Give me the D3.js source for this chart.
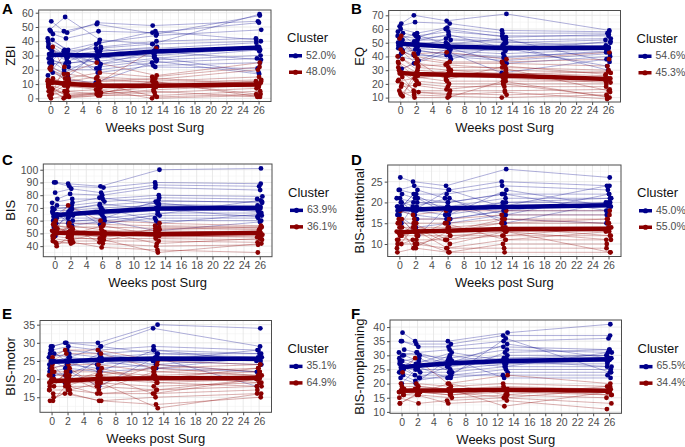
<!DOCTYPE html>
<html><head><meta charset="utf-8">
<script src="https://cdn.jsdelivr.net/npm/d3@7"></script>
<style>body{margin:0;background:#fff} text{font-family:Arial,"Liberation Sans",sans-serif}</style>
</head><body><svg id="c" width="685" height="447"></svg>
<script>
const weeks = [0, 2, 6, 13, 26];
const xTicks = [0, 2, 4, 6, 8, 10, 12, 14, 16, 18, 20, 22, 24, 26];
const clusterLabels = ["A", "B", "C", "D", "E", "F"];
const yTitles = ["ZBI", "EQ", "BIS", "BIS-attentional", "BIS-motor", "BIS-nonplanning"];
const pctBlue = ["52.0%", "54.6%", "63.9%", "45.0%", "35.1%", "65.5%"];
const pctRed = ["48.0%", "45.3%", "36.1%", "55.0%", "64.9%", "34.4%"];
const yTicksAll = [
  [0, 10, 20, 30, 40, 50, 60],
  [10, 20, 30, 40, 50, 60, 70],
  [40, 50, 60, 70, 80, 90, 100],
  [10, 15, 20, 25],
  [15, 20, 25, 30, 35],
  [10, 15, 20, 25, 30, 35, 40]
];
// mean trajectories (week 0,2,6,13,26)
const meanBlue = [
  [30.5, 30.3, 30.0, 32.8, 35.6],
  [49.3, 48.6, 47.2, 46.2, 46.3],
  [64.2, 65.2, 67.0, 69.6, 70.0],
  [18.4, 18.3, 18.6, 18.9, 19.3],
  [24.8, 24.9, 25.3, 25.7, 25.6],
  [25.8, 26.3, 27.2, 28.0, 28.6]
];
const meanRed = [
  [11.5, 10.2, 8.9, 8.9, 9.7],
  [28.0, 27.3, 26.6, 26.0, 23.5],
  [50.6, 50.4, 50.0, 49.4, 50.4],
  [12.8, 13.0, 13.2, 13.6, 13.7],
  [19.5, 19.6, 20.0, 20.2, 20.3],
  [17.5, 17.6, 17.6, 17.8, 17.5]
];
// individual trajectories (week 0,2,6,13,26)
const zbiBlue = [[54,47,52,45,58],[48,57,41,38,59],[47,46,53,51,54],[45,42,47,46,53],[42,34,39,44,48],[41,33,36,40,42],[40,32,35,38,40],[38,30,33,35,39],[36,28,30,32,36],[33,25,26,30,35],[30,33,24,28,34],[28,22,22,27,30],[26,20,20,25,28],[25,34,18,23,25],[22,18,30,22,21],[20,15,35,29,18],[18,13,11,26,17],[16,31,24,33,27],[31,29,38,47,41],[27,24,28,31,36],[35,30,21,null,33],[24,26,33,36,null]];
const zbiRed = [[22,17,25,16,25],[21,14,18,15,22],[20,12,15,13,20],[14,10,12,12,15],[12,9,10,11,13],[11,8,8,10,12],[10,5,6,9,11],[9,3,4,8,10],[8,2,3,6,9],[7,1,2,4,7],[6,0,2,2,5],[5,12,10,1,3],[3,9,6,0,2],[2,5,3,12,1],[1,22,12,14,10],[0,2,4,9,8],[36,14,10,35,null],[13,11,9,8,12],[10,17,14,11,3],[4,1,3,5,1]];
const eqBlue = [[64,70,66,71,59],[62,65,64,59,58],[60,57,61,57,57],[57,55,58,55,55],[55,53,55,52,53],[52,52,52,50,52],[50,50,50,48,50],[48,48,47,45,48],[46,46,44,42,45],[45,44,42,40,43],[43,41,40,37,42],[40,37,46,35,40],[31,35,43,28,38],[53,56,49,53,36],[47,51,56,46,33],[51,42,38,49,30],[44,54,60,54,56],[58,49,45,44,51],[49,47,53,51,47],[42,45,41,39,44]];
const eqRed = [[55,42,43,38,43],[53,40,36,36,38],[45,38,35,35,33],[43,35,32,32,30],[40,32,30,30,28],[38,30,28,28,26],[36,28,25,25,24],[35,25,22,22,22],[32,22,20,20,20],[28,20,18,18,18],[25,15,15,15,16],[23,14,13,12,14],[20,12,11,10,12],[15,10,10,22,10],[13,14,12,14,9],[12,26,30,27,29],[11,33,34,31,15],[22,24,27,24,21],[30,36,23,33,27],[18,19,16,20,11]];
const bisBlue = [[90,89,87,100,101],[90,87,86,90,89],[82,85,82,88,87],[77,81,80,86,84],[74,77,77,80,79],[72,72,75,78,77],[70,70,72,75,75],[68,68,70,72,72],[66,66,68,70,70],[64,64,65,68,68],[62,62,62,66,66],[60,60,60,64,64],[58,58,58,62,62],[55,63,70,60,60],[52,67,64,58,65],[48,56,60,52,59],[65,74,78,73,71],[67,59,62,76,74],[63,69,73,69,63],[61,65,66,74,67],[69,71,57,65,76]];
const bisRed = [[60,72,60,58,56],[58,58,57,56,55],[56,55,55,54,53],[54,52,52,52,51],[52,50,50,50,49],[50,48,48,48,47],[48,46,46,46,45],[46,44,44,44,43],[44,42,42,40,41],[42,43,39,37,35],[40,47,45,35,42],[57,53,49,53,55],[51,49,56,49,50],[47,56,53,47,48],[55,51,47,51,52],[43,45,51,42,46],[53,54,43,55,54]];
const attBlue = [[26,25,24,28,26],[23,24,23,25,24],[23,22,22,24,23],[22,21,20,22,22],[21,20,19,21,21],[20,19,18,20,20],[19,18,17,19,19],[18,17,16,18,18],[17,14,15,17,17],[16,12,19,16,15],[15,19,21,15,20],[19,21,17,23,19],[20,18,23,19,24],[18,22,18,20,21],[17,20,20,22,18],[21,16,16,18,20],[19,23,21,17,22]];
const attRed = [[18,17,18,18,18],[16,16,16,17,17],[15,15,15,16,16],[14,14,14,15,15],[13,13,13,14,14],[12,12,12,13,13],[11,11,11,12,12],[10,10,9,11,11],[8,9,8,10,10],[12,13,9,9,9],[10,11,8,8,8],[15,12,14,13,8],[13,14,13,15,16],[11,15,11,14,12],[14,9,13,16,15],[12,10,12,12,14],[16,12,15,11,13],[9,14,10,13,11]];
const motBlue = [[29,30,30,35,34],[29,30,29,34,29],[28,29,28,29,28],[27,28,27,28,27],[26,27,26,27,26],[25,26,25,26,25],[24,25,24,25,24],[23,24,23,24,22],[22,23,22,23,22],[21,22,18,26,18],[20,19,26,24,26],[27,26,29,27,27],[25,23,27,25,28],[28,25,22,28,25],[22,21,25,23,26]];
const motRed = [[26,28,28,25,24],[25,27,27,23,24],[23,24,24,22,23],[22,22,22,21,22],[21,21,21,20,21],[20,20,20,19,20],[19,19,19,18,19],[18,18,18,17,18],[17,17,16,16,17],[16,16,14,15,16],[15,16,14,13,15],[14,17,19,12,16],[14,18,21,16,20],[19,21,17,22,21],[20,19,22,20,23],[22,20,20,21,19],[18,23,18,24,22],[17,22,23,19,18],[21,18,16,17,20],[24,20,21,23,21]];
const nonBlue = [[38,35,35,38,41],[35,34,34,37,37],[35,33,33,35,36],[32,31,32,33,32],[31,30,29,32,31],[30,28,28,30,30],[29,27,27,29,29],[28,26,26,28,28],[27,25,25,27,27],[26,24,24,26,26],[25,23,23,25,25],[24,22,22,24,24],[23,21,23,23,23],[22,20,29,22,22],[20,25,30,27,28],[28,29,24,31,32],[26,30,27,34,29],[24,27,31,28,26],[27,22,26,29,30],[30,31,28,26,31],[25,26,22,36,24]];
const nonRed = [[24,29,20,23,20],[20,20,19,20,19],[19,19,18,19,18],[18,18,17,18,17],[17,17,16,17,16],[16,16,15,16,15],[15,13,14,15,13],[13,16,13,14,11],[17,19,18,12,17],[16,17,20,16,19],[18,18,17,15,18],[13,17,16,18,16]];

const blueSets = [zbiBlue, eqBlue, bisBlue, attBlue, motBlue, nonBlue];
const redSets = [zbiRed, eqRed, bisRed, attRed, motRed, nonRed];

// layout (pixels) and axis domains
const jitter = [0.12,-0.25,0.3,-0.08,0.2,-0.3,0.05,0.25,-0.15,0.33,-0.2,0.1,-0.33,0.18,-0.05,0.28,-0.12,0.22,-0.28,0.02,0.15,-0.22,0.08];
const rects = [
  {l:38.7, r:271, t:10, b:101.5, lab:13.5},
  {l:388.7, r:620.5, t:10.5, b:102, lab:13.5},
  {l:43.3, r:272, t:164, b:256.7, lab:165},
  {l:387.7, r:621, t:165, b:256.5, lab:165},
  {l:40, r:271.5, t:320.5, b:412.3, lab:318.5},
  {l:390, r:621.5, t:320, b:413.3, lab:318.5}
];
const yDomains = [[-2.2, 61.9], [6.8, 73.5], [31.7, 104.5], [7, 29], [10.85, 36.15], [9.5, 42.5]];
const xDomain = [-1.45, 27.55];
const BLUE = "#00008B", RED = "#8B0000";

const svg = d3.select("#c");

rects.forEach((R, p) => {
  const g = svg.append("g");
  const x = d3.scaleLinear().domain(xDomain).range([R.l, R.r]);
  const y = d3.scaleLinear().domain(yDomains[p]).range([R.b, R.t]);
  const left = p % 2 === 0;

  // grid
  const minorX = d3.range(1, 27, 2);
  const yt = yTicksAll[p];
  const step = yt[1] - yt[0];
  const minorY = [];
  for (let v = yt[0] - step / 2; v <= yDomains[p][1]; v += step) if (v >= yDomains[p][0]) minorY.push(v);
  const grid = g.append("g");
  grid.selectAll(".mx").data(minorX).join("line").attr("x1", d => x(d)).attr("x2", d => x(d)).attr("y1", R.t).attr("y2", R.b).attr("stroke", "#f2f2f2").attr("stroke-width", 0.6);
  grid.selectAll(".my").data(minorY).join("line").attr("class","my").attr("y1", d => y(d)).attr("y2", d => y(d)).attr("x1", R.l).attr("x2", R.r).attr("stroke", "#f2f2f2").attr("stroke-width", 0.6);
  grid.selectAll(".gx").data(xTicks).join("line").attr("class","gx").attr("x1", d => x(d)).attr("x2", d => x(d)).attr("y1", R.t).attr("y2", R.b).attr("stroke", "#e3e3e3").attr("stroke-width", 0.8);
  grid.selectAll(".gy").data(yt).join("line").attr("class","gy").attr("y1", d => y(d)).attr("y2", d => y(d)).attr("x1", R.l).attr("x2", R.r).attr("stroke", "#e3e3e3").attr("stroke-width", 0.8);

  const clip = "clip" + p;
  svg.append("clipPath").attr("id", clip).append("rect").attr("x", R.l).attr("y", R.t).attr("width", R.r - R.l).attr("height", R.b - R.t);
  const plot = g.append("g").attr("clip-path", `url(#${clip})`);

  const line = d3.line().defined(d => d[1] != null).x(d => x(d[0])).y(d => y(d[1]));
  const toPts = (arr, si) => arr.map((v, ti) => [weeks[ti] + jitter[(si * 3 + ti * 5) % jitter.length], v]);

  const sets = [[blueSets[p], BLUE], [redSets[p], RED]];
  sets.forEach(([set, col]) => {
    plot.append("g").selectAll("path").data(set).join("path")
      .attr("d", (d, i) => line(toPts(d, i))).attr("fill", "none")
      .attr("stroke", col).attr("stroke-width", 0.7).attr("stroke-opacity", 0.45);
  });
  sets.forEach(([set, col]) => {
    const pts = [];
    set.forEach((d, i) => toPts(d, i).forEach(q => { if (q[1] != null) pts.push(q); }));
    plot.append("g").selectAll("circle").data(pts).join("circle")
      .attr("cx", d => x(d[0])).attr("cy", d => y(d[1])).attr("r", 2.4).attr("fill", col);
  });
  // mean lines
  [[meanBlue[p], BLUE], [meanRed[p], RED]].forEach(([m, col]) => {
    const pts = m.map((v, i) => [weeks[i], v]);
    plot.append("path").attr("d", line(pts)).attr("fill", "none").attr("stroke", col).attr("stroke-width", 4.5);
    plot.append("g").selectAll("circle").data(pts).join("circle").attr("cx", d => x(d[0])).attr("cy", d => y(d[1])).attr("r", 3).attr("fill", col);
  });

  // border
  g.append("rect").attr("x", R.l).attr("y", R.t).attr("width", R.r - R.l).attr("height", R.b - R.t).attr("fill", "none").attr("stroke", "#4d4d4d").attr("stroke-width", 1);

  // axes
  const xa = g.append("g").attr("transform", `translate(0,${R.b})`).call(d3.axisBottom(x).tickValues(xTicks).tickSize(3).tickPadding(2));
  const ya = g.append("g").attr("transform", `translate(${R.l},0)`).call(d3.axisLeft(y).tickValues(yt).tickSize(3).tickPadding(2));
  [xa, ya].forEach(a => {
    a.select(".domain").remove();
    a.selectAll("line").attr("stroke", "#4d4d4d");
    a.selectAll("text").attr("fill", "#4d4d4d").style("font-size", "10.5px").style("font-family", "Arial, 'Liberation Sans', sans-serif");
  });

  // titles
  g.append("text").attr("x", (R.l + R.r) / 2).attr("y", R.b + 27).attr("text-anchor", "middle").attr("dominant-baseline", "middle")
    .style("font-size", "13px").attr("fill", "#111").text("Weeks post Surg");
  const ytx = left ? 12 : 360.5;
  g.append("text").attr("transform", `translate(${ytx},${(R.t + R.b) / 2}) rotate(-90)`).attr("text-anchor", "middle").attr("dominant-baseline", "middle")
    .style("font-size", "13px").attr("fill", "#111").text(yTitles[p]);
  g.append("text").attr("x", left ? 2 : 351).attr("y", R.lab).style("font-size", "15px").style("font-weight", "bold").attr("fill", "#000").text(clusterLabels[p]);

  // legend
  const c = (R.t + R.b) / 2;
  g.append("text").attr("x", R.r + 16).attr("y", c - 17).attr("dominant-baseline", "middle").style("font-size", "13px").attr("fill", "#111").text("Cluster");
  [[pctBlue[p], BLUE, c], [pctRed[p], RED, c + 16.5]].forEach(([t, col, yy]) => {
    g.append("line").attr("x1", R.r + 18).attr("x2", R.r + 31).attr("y1", yy).attr("y2", yy).attr("stroke", col).attr("stroke-width", 3.5);
    g.append("circle").attr("cx", R.r + 24.5).attr("cy", yy).attr("r", 2.6).attr("fill", col);
    g.append("text").attr("x", R.r + 35).attr("y", yy).attr("dominant-baseline", "middle").style("font-size", "10.5px").attr("fill", "#4d4d4d").text(t);
  });
});
</script></body></html>
